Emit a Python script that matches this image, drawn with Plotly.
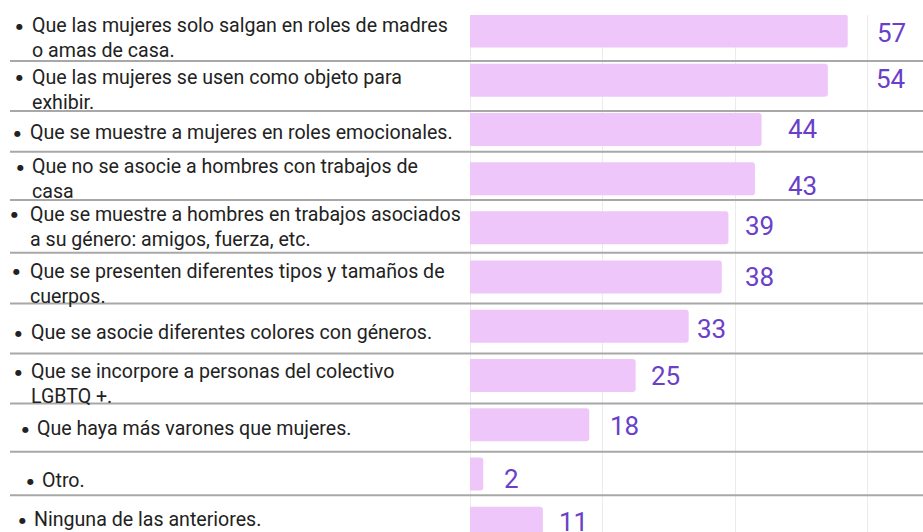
import plotly.graph_objects as go

categories = [
    "Que las mujeres solo salgan en roles de madres<br>o amas de casa.",
    "Que las mujeres se usen como objeto para<br>exhibir.",
    "Que se muestre a mujeres en roles emocionales.",
    "Que no se asocie a hombres con trabajos de<br>casa",
    "Que se muestre a hombres en trabajos asociados<br>a su género: amigos, fuerza, etc.",
    "Que se presenten diferentes tipos y tamaños de<br>cuerpos.",
    "Que se asocie diferentes colores con géneros.",
    "Que se incorpore a personas del colectivo<br>LGBTQ +.",
    "Que haya más varones que mujeres.",
    "Otro.",
    "Ninguna de las anteriores.",
]
values = [57, 54, 44, 43, 39, 38, 33, 25, 18, 2, 11]

# styling / placement (pixels)
W, H = 923, 532
PLOT_LEFT = 470
text_x = [30, 30, 28, 30, 28, 28, 29, 29, 35, 40, 32]
bullet_x = [19, 19, 17, 20, 15, 16, 18, 18, 25, 31, 22]
text_dy = [7, 9.5, 2.6, 0.4, -1.3, 6.5, 5.8, 8.6, 3.4, 6.2, -4]   # down positive
num_dx = [27, 46, 24, 31, 14.5, 21, 6, 13, 19, 19, 14]
num_dy = [2, -1, 0, 7.4, -2, 0, 3, 0.6, 1.4, 4.7, -1]
sep_offset = [0.11, 0.126, -0.047, -0.065, 0.006, 0.035, 0.051, 0.067, 0.051, -0.069]

LABEL_FONT = dict(family="Roboto, sans-serif", size=19.6, color="#222222")
BULLET_FONT = dict(family="DejaVu Sans, sans-serif", size=8, color="#222222")
NUM_FONT = dict(family="Roboto, Inter, sans-serif", size=26, color="#6A40C8")
BAR_COLOR = "#EFC6F9"

fig = go.Figure()
fig.add_trace(go.Bar(
    x=values, y=categories, orientation="h",
    marker=dict(color=BAR_COLOR, line=dict(width=0), cornerradius=3),
    width=0.67, hoverinfo="x+y",
))

annotations = []
shapes = []
LINE_H = 1.3 * LABEL_FONT["size"]
for i, (cat, v) in enumerate(zip(categories, values)):
    nlines = cat.count("<br>") + 1
    annotations.append(dict(
        xref="paper", yref="y", x=text_x[i] / W, y=cat,
        text=cat, showarrow=False, xanchor="left", yanchor="middle",
        align="left", yshift=-text_dy[i], font=LABEL_FONT,
    ))
    annotations.append(dict(
        xref="paper", yref="y", x=bullet_x[i] / W, y=cat,
        text="●", showarrow=False, xanchor="center", yanchor="middle",
        yshift=-text_dy[i] + (nlines - 1) * LINE_H / 2 - 1,
        font=BULLET_FONT,
    ))
    annotations.append(dict(
        xref="x", yref="y", x=v, y=cat, text=str(v), showarrow=False,
        xanchor="left", yanchor="middle", xshift=num_dx[i], yshift=-num_dy[i],
        font=NUM_FONT,
    ))

for i, off in enumerate(sep_offset):
    yv = i + 0.5 + off
    shapes.append(dict(
        type="line", xref="paper", yref="y", x0=10 / W, x1=1, y0=yv, y1=yv,
        line=dict(color="#A8A8A8", width=2), layer="above",
    ))

top_idx = -0.325
bot_idx = 10.18
fig.update_layout(
    width=W, height=H,
    margin=dict(l=0, r=0, t=0, b=0),
    paper_bgcolor="white", plot_bgcolor="white",
    showlegend=False,
    bargap=0.33,
    xaxis=dict(domain=[PLOT_LEFT / W, 1], range=[0, 68.36], dtick=20,
               showgrid=True, gridcolor="#EBEBEB", gridwidth=1,
               zeroline=True, zerolinecolor="#EBEBEB", zerolinewidth=1,
               showticklabels=False, showline=False, ticks=""),
    yaxis=dict(domain=[0, 1 - 15 / H], type="category",
               range=[bot_idx, top_idx], showticklabels=False,
               showgrid=False, zeroline=False, showline=False, ticks=""),
    annotations=annotations, shapes=shapes,
)

fig.write_html("out.html", config={"displayModeBar": False},
               post_script="document.body.style.margin='0';document.body.style.padding='0';")
